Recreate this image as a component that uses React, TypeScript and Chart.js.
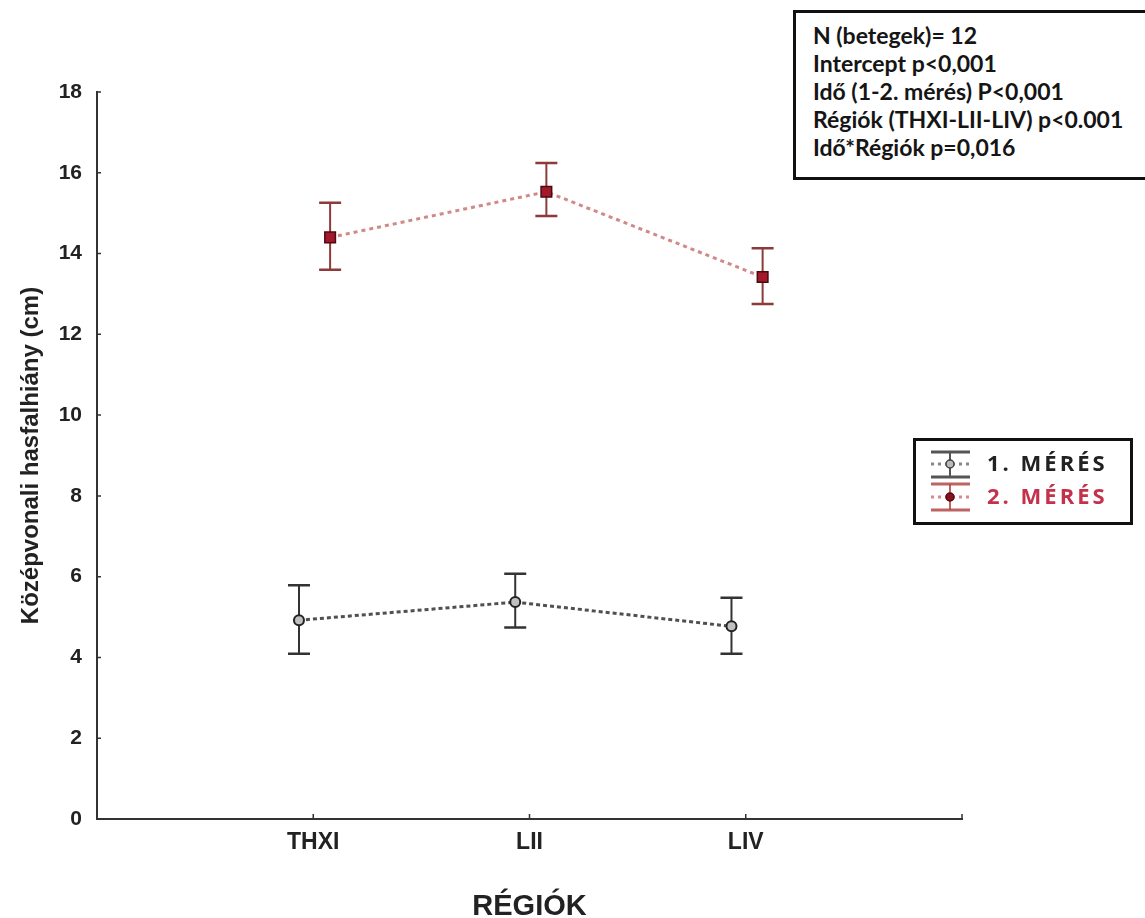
import React, { useEffect, useRef } from "react";
import { Chart, registerables } from "chart.js";

Chart.register(...registerables);

// ---- data ----
const regions = ["THXI", "LII", "LIV"];
const seriesLabels = ["1. MÉRÉS", "2. MÉRÉS"];
const mean1 = [4.92, 5.37, 4.77];
const low1 = [4.09, 4.74, 4.09];
const high1 = [5.79, 6.07, 5.48];
const mean2 = [14.4, 15.53, 13.42];
const low2 = [13.6, 14.93, 12.75];
const high2 = [15.26, 16.24, 14.13];
const yTicks = [0, 2, 4, 6, 8, 10, 12, 14, 16, 18];
const statLines = [
  "N (betegek)= 12",
  "Intercept p<0,001",
  "Idő (1-2. mérés) P<0,001",
  "Régiók (THXI-LII-LIV) p<0.001",
  "Idő*Régiók p=0,016",
];

// ---- styles ----
const OFFSET1 = -0.066;
const OFFSET2 = 0.078;
const SANS = "'Liberation Sans', Arial, sans-serif";
const BLACK_LINE = "#505050";
const BLACK_BAR = "#333333";
const RED_LINE = "rgba(200,115,115,0.85)";
const RED_BAR = "#8c3a3a";
const RED_TEXT = "#c4314b";

const errorBarPlugin = {
  id: "errorBars",
  beforeDatasetsDraw(chart: any) {
    const { ctx, scales } = chart;
    const xs = scales.x;
    const ys = scales.y;
    const sets = [
      { off: OFFSET1, lo: low1, hi: high1, color: BLACK_BAR },
      { off: OFFSET2, lo: low2, hi: high2, color: RED_BAR },
    ];
    ctx.save();
    sets.forEach((s) => {
      regions.forEach((_, i) => {
        const x = xs.getPixelForValue(i + s.off);
        const yl = ys.getPixelForValue(s.lo[i]);
        const yh = ys.getPixelForValue(s.hi[i]);
        ctx.strokeStyle = s.color;
        ctx.lineWidth = 2;
        ctx.beginPath();
        ctx.moveTo(x, yl);
        ctx.lineTo(x, yh);
        ctx.stroke();
        ctx.lineWidth = 2.5;
        ctx.beginPath();
        ctx.moveTo(x - 11, yl);
        ctx.lineTo(x + 11, yl);
        ctx.moveTo(x - 11, yh);
        ctx.lineTo(x + 11, yh);
        ctx.stroke();
      });
    });
    ctx.restore();
  },
  afterDraw(chart: any) {
    const { ctx, scales, chartArea } = chart;
    const xs = scales.x;
    const ys = scales.y;
    ctx.save();
    // inner tick marks
    ctx.strokeStyle = "#333";
    ctx.lineWidth = 1.5;
    ctx.beginPath();
    yTicks.forEach((v) => {
      const y = ys.getPixelForValue(v);
      ctx.moveTo(chartArea.left, y);
      ctx.lineTo(chartArea.left + 4, y);
    });
    [0, 1, 2, 3].forEach((v) => {
      const x = xs.getPixelForValue(v);
      ctx.moveTo(x, chartArea.bottom);
      ctx.lineTo(x, chartArea.bottom - 5);
    });
    ctx.stroke();

    // legend box
    const bx = 913, by = 438, bw = 220, bh = 87;
    ctx.fillStyle = "#fff";
    ctx.fillRect(bx, by, bw, bh);
    ctx.strokeStyle = "#111";
    ctx.lineWidth = 3;
    ctx.strokeRect(bx + 1.5, by + 1.5, bw - 3, bh - 3);

    const items = [
      { cy: 464, top: 452, bot: 477, cap: "#555", line: "#888", pfill: "#bbb", pstroke: "#444", text: "#222" },
      { cy: 497, top: 484, bot: 510, cap: "rgba(180,70,70,0.85)", line: "rgba(200,110,110,0.8)", pfill: "#8a1020", pstroke: "#5a0810", text: RED_TEXT },
    ];
    items.forEach((it, k) => {
      const x0 = 931, x1 = 970, xc = 950;
      ctx.strokeStyle = it.cap;
      ctx.lineWidth = 3;
      ctx.setLineDash([]);
      ctx.beginPath();
      ctx.moveTo(x0, it.top);
      ctx.lineTo(x1, it.top);
      ctx.moveTo(x0, it.bot);
      ctx.lineTo(x1, it.bot);
      ctx.stroke();
      ctx.lineWidth = 2;
      ctx.beginPath();
      ctx.moveTo(xc, it.top);
      ctx.lineTo(xc, it.bot);
      ctx.stroke();
      ctx.strokeStyle = it.line;
      ctx.lineWidth = 3;
      ctx.setLineDash([3, 4]);
      ctx.beginPath();
      ctx.moveTo(x0, it.cy);
      ctx.lineTo(x1, it.cy);
      ctx.stroke();
      ctx.setLineDash([]);
      ctx.fillStyle = it.pfill;
      ctx.strokeStyle = it.pstroke;
      ctx.lineWidth = 1.5;
      ctx.beginPath();
      ctx.arc(xc, it.cy, 4, 0, Math.PI * 2);
      ctx.fill();
      ctx.stroke();

      ctx.fillStyle = it.text;
      ctx.font = "bold 22px 'Open Sans', sans-serif";
      (ctx as any).letterSpacing = "3px";
      ctx.textAlign = "left";
      ctx.textBaseline = "middle";
      ctx.fillText(chart.data.datasets[k].label, 987, it.cy + 1);
    });
    ctx.restore();
  },
};

export default function App() {
  const ref = useRef<HTMLCanvasElement>(null);

  useEffect(() => {
    if (!ref.current) return;
    const chart = new Chart(ref.current, {
      type: "line",
      data: {
        datasets: [
          {
            label: seriesLabels[0],
            data: mean1.map((v, i) => ({ x: i + OFFSET1, y: v })),
            borderColor: BLACK_LINE,
            borderWidth: 3,
            borderDash: [4, 3],
            pointStyle: "circle",
            pointRadius: 5,
            pointBackgroundColor: "#c0c0c0",
            pointBorderColor: "#222",
            pointBorderWidth: 2,
            tension: 0,
          },
          {
            label: seriesLabels[1],
            data: mean2.map((v, i) => ({ x: i + OFFSET2, y: v })),
            borderColor: RED_LINE,
            borderWidth: 3,
            borderDash: [4, 4],
            pointStyle: "rect",
            pointRadius: 7.5,
            pointBackgroundColor: "#a3182a",
            pointBorderColor: "#4a0a10",
            pointBorderWidth: 1.5,
            tension: 0,
          },
        ],
      },
      options: {
        responsive: false,
        maintainAspectRatio: false,
        animation: false,
        devicePixelRatio: 1,
        layout: { padding: { left: 0, right: 183, top: 92, bottom: 0 } },
        plugins: {
          legend: { display: false },
          tooltip: { enabled: false },
        },
        scales: {
          x: {
            type: "linear",
            position: "bottom",
            min: -1,
            max: 3,
            afterFit: (s: any) => {
              s.height = 99;
            },
            afterBuildTicks: (s: any) => {
              s.ticks = [-1, 0, 1, 2, 3].map((v) => ({ value: v }));
            },
            ticks: {
              autoSkip: false,
              maxRotation: 0,
              padding: 10,
              color: "#222",
              font: { family: SANS, size: 23, weight: "bold" },
              callback: (v: any) => regions[v as number] ?? "",
            },
            grid: { display: false, drawTicks: false },
            border: { display: true, color: "#333", width: 2 },
            title: {
              display: true,
              text: "RÉGIÓK",
              color: "#222",
              font: { family: SANS, size: 29, weight: "bold", lineHeight: 1 },
              padding: { top: 0, bottom: -3 },
            },
          },
          y: {
            min: 0,
            max: 18,
            afterFit: (s: any) => {
              s.width = 97;
            },
            afterBuildTicks: (s: any) => {
              s.ticks = yTicks.map((v) => ({ value: v }));
            },
            ticks: {
              padding: 15,
              color: "#222",
              font: { family: SANS, size: 21, weight: "bold" },
            },
            grid: { display: false, drawTicks: false },
            border: { display: true, color: "#333", width: 2 },
            title: {
              display: true,
              text: "Középvonali hasfalhiány (cm)",
              color: "#222",
              font: { family: SANS, size: 24, weight: "bold", lineHeight: 1 },
              padding: { top: 19, bottom: 0 },
            },
          },
        },
      },
      plugins: [errorBarPlugin],
    } as any);
    return () => chart.destroy();
  }, []);

  return (
    <div
      style={{
        position: "fixed",
        left: 0,
        top: 0,
        width: 1145,
        height: 918,
        overflow: "hidden",
        background: "#fff",
      }}
    >
      <canvas ref={ref} width={1145} height={918} style={{ display: "block" }} />
      <div
        style={{
          position: "absolute",
          left: 793,
          top: 10,
          width: 420,
          height: 170,
          boxSizing: "border-box",
          border: "3px solid #111",
          background: "#fff",
          padding: "8px 0 0 17px",
          fontFamily: "Lato, 'Open Sans', sans-serif",
          fontWeight: 700,
          fontSize: 23,
          lineHeight: "28px",
          letterSpacing: "0px",
          color: "#151515",
          whiteSpace: "nowrap",
        }}
      >
        {statLines.map((t) => (
          <div key={t}>{t}</div>
        ))}
      </div>
    </div>
  );
}
